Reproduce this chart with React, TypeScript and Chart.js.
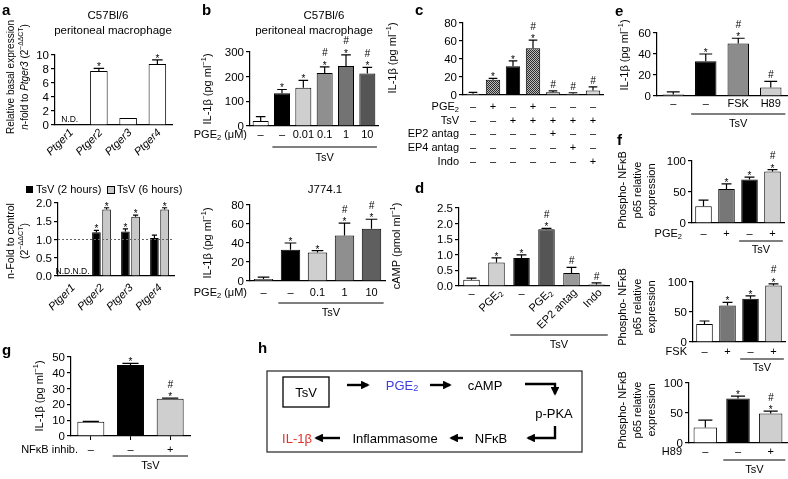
import React, { useEffect, useRef, useState } from 'react';
import { Chart, registerables } from 'chart.js';

Chart.register(...registerables);

const FONT = "'Liberation Sans', Arial, Helvetica, sans-serif";
Chart.defaults.font.family = FONT;
Chart.defaults.color = '#000';

// ---------------- data ----------------
// a (top): basal expression, n-fold to Ptger3
const ptgerCats = ['Ptger1', 'Ptger2', 'Ptger3', 'Ptger4'];
const aTopTicks = [0, 2, 4, 6, 8, 10];
const aTopValues = [null, 7.7, 1.0, 8.7];
const aTopErrors = [0, 0.4, 0, 0.6];
const aTopMarks = ['', '*', '', '*'];
// a (bottom): TsV 2 h / 6 h
const aBotTicks = [0, 0.5, 1, 1.5, 2];
const aBot2hValues = [null, 1.2, 1.22, 1.04];
const aBot2hErrors = [0, 0.05, 0.07, 0.08];
const aBot2hMarks = ['', '*', '*', ''];
const aBot6hValues = [null, 1.82, 1.62, 1.82];
const aBot6hErrors = [0, 0.05, 0.05, 0.05];
const aBot6hMarks = ['', '*', '*', '*'];
// b (top)
const bTopTicks = [0, 100, 200, 300];
const bTopDose = ['–', '–', '0.01', '0.1', '1', '10'];
const bTopValues = [20, 133, 155, 215, 243, 213];
const bTopErrors = [18, 15, 30, 25, 45, 25];
const bTopMarks = ['', '*', '*', '*#', '*#', '*#'];
// b (bottom) J774.1
const bBotTicks = [0, 20, 40, 60, 80];
const bBotDose = ['–', '–', '0.1', '1', '10'];
const bBotValues = [2, 33, 30, 48, 55];
const bBotErrors = [2, 7, 2, 13, 10];
const bBotMarks = ['', '*', '*', '*#', '*#'];
// c
const cTicks = [0, 20, 40, 60, 80];
const cRowLabels = ['PGE_{2}', 'TsV', 'EP2 antag', 'EP4 antag', 'Indo'];
const cPGE2 = ['–', '+', '–', '+', '–', '–', '–'];
const cTsV = ['–', '–', '+', '+', '+', '+', '+'];
const cEP2 = ['–', '–', '–', '–', '+', '–', '–'];
const cEP4 = ['–', '–', '–', '–', '–', '+', '–'];
const cIndo = ['–', '–', '–', '–', '–', '–', '+'];
const cValues = [1.5, 17, 32, 52, 3, 1.5, 5];
const cErrors = [1.5, 1.5, 6, 9, 1.5, 1, 4];
const cMarks = ['', '*', '*', '*#', '#', '#', '#'];
// d cAMP
const dTicks = [0, 0.5, 1, 1.5, 2, 2.5];
const dLabels = ['–', 'PGE_{2}', '–', 'PGE_{2}', 'EP2 antag', 'Indo'];
const dValues = [0.2, 0.75, 0.9, 1.82, 0.42, 0.05];
const dErrors = [0.05, 0.15, 0.1, 0.03, 0.18, 0.05];
const dMarks = ['', '*', '*', '*#', '#', '#'];
// e
const eTicks = [0, 20, 40, 60];
const eLabels = ['–', '–', 'FSK', 'H89'];
const eValues = [1.5, 33, 50, 8];
const eErrors = [2.5, 7, 5, 6];
const eMarks = ['', '*', '*#', '#'];
// f
const fTicks = [0, 50, 100];
const fPGE2 = ['–', '+', '–', '+'];
const fTopValues = [27, 55, 70, 83];
const fTopErrors = [10, 8, 4, 3];
const fTopMarks = ['', '*', '*', '*#'];
const fFSK = ['–', '+', '–', '+'];
const fMidValues = [30, 61, 72, 94];
const fMidErrors = [5, 5, 5, 3];
const fMidMarks = ['', '*', '*', '*#'];
const fH89 = ['–', '–', '+'];
const fBotValues = [26, 74, 49];
const fBotErrors = [12, 4, 4];
const fBotMarks = ['', '*', '*#'];
// g
const gTicks = [0, 10, 20, 30, 40, 50];
const gNFkB = ['–', '–', '+'];
const gValues = [9, 45, 23.5];
const gErrors = [0.3, 1, 0.5];
const gMarks = ['', '*', '*#'];

// ---------------- helpers ----------------
type Seg = { t: string; mode: number; it: boolean };
function parseRich(s: string, baseItalic: boolean): Seg[] {
  const segs: Seg[] = [];
  let it = baseItalic;
  let buf = '';
  let i = 0;
  const push = () => { if (buf) segs.push({ t: buf, mode: 0, it }); buf = ''; };
  while (i < s.length) {
    const c = s[i];
    if (c === '~') { push(); it = !it; i++; continue; }
    if ((c === '_' || c === '^') && s[i + 1] === '{') {
      push();
      const end = s.indexOf('}', i);
      segs.push({ t: s.slice(i + 2, end), mode: c === '_' ? 1 : 2, it });
      i = end + 1;
      continue;
    }
    buf += c;
    i++;
  }
  push();
  return segs;
}

type TOpt = { size?: number; align?: string; rot?: number; italic?: boolean; bold?: boolean; color?: string };
function drawRich(ctx: CanvasRenderingContext2D, s: string, x: number, y: number, o: TOpt = {}) {
  const size = o.size || 11;
  const segs = parseRich(s, !!o.italic);
  const fontFor = (g: Seg) => `${g.it ? 'italic ' : ''}${o.bold ? 'bold ' : ''}${g.mode ? size * 0.68 : size}px ${FONT}`;
  let w = 0;
  const ws = segs.map((g) => { ctx.font = fontFor(g); const m = ctx.measureText(g.t).width; w += m; return m; });
  ctx.save();
  ctx.translate(x, y);
  if (o.rot) ctx.rotate((o.rot * Math.PI) / 180);
  ctx.fillStyle = o.color || '#000';
  ctx.textBaseline = 'middle';
  ctx.textAlign = 'left';
  let cx = o.align === 'right' ? -w : o.align === 'left' ? 0 : -w / 2;
  segs.forEach((g, k) => {
    ctx.font = fontFor(g);
    const dy = g.mode === 1 ? size * 0.28 : g.mode === 2 ? -size * 0.36 : 0;
    ctx.fillText(g.t, cx, dy);
    cx += ws[k];
  });
  ctx.restore();
}

type TextItem = { t: string; x: number; y: number } & TOpt;
type Row = { label?: string; labelX?: number; y: number; values: string[] };
type SetSpec = { data: (number | null)[]; colors: any; errors: number[]; marks: string[] };
type Spec = {
  plot: [number, number, number, number];
  cats: string[];
  sets: SetSpec[];
  yTicks: number[];
  dec?: number;
  barPct: number;
  catPct?: number;
  xTicks?: boolean;
  texts?: TextItem[];
  rows?: Row[];
  rot?: { labels: string[]; y: number; dx: number; italic?: boolean; dashY?: number };
  group?: { from: number; to: number; y: number; labelY: number };
  refLine?: number;
  extra?: (ctx: CanvasRenderingContext2D, chart: any) => void;
};

const YW = 30;

function build(canvas: HTMLCanvasElement, s: Spec) {
  const [x0, y0, x1, y1] = s.plot;
  const yMax = s.yTicks[s.yTicks.length - 1];
  const extras = {
    id: 'extras',
    afterDraw(chart: any) {
      const ctx: CanvasRenderingContext2D = chart.ctx;
      const xs = chart.scales.x;
      const ys = chart.scales.y;
      ctx.save();
      if (s.refLine != null) {
        const yy = ys.getPixelForValue(s.refLine);
        ctx.setLineDash([2, 2]);
        ctx.strokeStyle = '#666';
        ctx.lineWidth = 1;
        ctx.beginPath();
        ctx.moveTo(xs.left, yy);
        ctx.lineTo(xs.right, yy);
        ctx.stroke();
        ctx.setLineDash([]);
      }
      s.sets.forEach((set, d) => {
        const meta = chart.getDatasetMeta(d);
        set.data.forEach((v, i) => {
          if (v == null) return;
          const el: any = meta.data[i];
          const err = set.errors[i] || 0;
          const top = ys.getPixelForValue(v + err);
          const barTop = ys.getPixelForValue(v);
          const w = el.width;
          if (err > 0) {
            ctx.strokeStyle = '#000';
            ctx.lineWidth = 1.2;
            ctx.beginPath();
            ctx.moveTo(el.x, barTop);
            ctx.lineTo(el.x, top);
            ctx.moveTo(el.x - w * 0.3, top);
            ctx.lineTo(el.x + w * 0.3, top);
            ctx.stroke();
          }
          const m = set.marks[i] || '';
          ctx.fillStyle = '#000';
          ctx.textAlign = 'center';
          ctx.textBaseline = 'alphabetic';
          if (m.includes('*')) {
            ctx.font = `10px ${FONT}`;
            ctx.fillText('*', el.x, top + 2);
          }
          if (m.includes('#')) {
            ctx.font = `italic 10px ${FONT}`;
            ctx.fillText('#', el.x, m.includes('*') ? top - 10.5 : top - 3);
          }
        });
      });
      (s.rows || []).forEach((r) => {
        if (r.label) drawRich(ctx, r.label, r.labelX || 0, r.y, { size: 11, align: 'right' });
        r.values.forEach((t, i) => drawRich(ctx, t, xs.getPixelForValue(i), r.y, { size: 11 }));
      });
      if (s.rot) {
        const rt = s.rot;
        rt.labels.forEach((t, i) => {
          const cx = xs.getPixelForValue(i);
          if (t === '–') drawRich(ctx, t, cx, rt.dashY || rt.y, { size: 11 });
          else drawRich(ctx, t, cx + rt.dx, rt.y, { size: 11, align: 'right', rot: -45, italic: rt.italic });
        });
      }
      if (s.group) {
        const g = s.group;
        const bw = xs.width / s.cats.length;
        const a = xs.getPixelForValue(g.from) - bw * 0.45;
        const b = xs.getPixelForValue(g.to) + bw * 0.45;
        ctx.strokeStyle = '#000';
        ctx.lineWidth = 1;
        ctx.beginPath();
        ctx.moveTo(a, g.y);
        ctx.lineTo(b, g.y);
        ctx.stroke();
        drawRich(ctx, 'TsV', (a + b) / 2, g.labelY, { size: 11 });
      }
      (s.texts || []).forEach((t) => drawRich(ctx, t.t, t.x, t.y, t));
      if (s.extra) s.extra(ctx, chart);
      ctx.restore();
    },
  };

  const datasets = s.sets.map((set) => ({
    data: set.data,
    backgroundColor: set.colors,
    borderColor: '#000',
    borderWidth: 1,
    barPercentage: s.barPct,
    categoryPercentage: s.catPct ?? 1,
  }));

  return new Chart(canvas, {
    type: 'bar',
    data: { labels: s.cats, datasets } as any,
    options: {
      responsive: false,
      animation: false,
      devicePixelRatio: 1,
      events: [],
      layout: { padding: { left: x0 - YW, top: y0, right: 788 - x1, bottom: 479 - y1 } },
      plugins: { legend: { display: false }, tooltip: { enabled: false }, title: { display: false } },
      scales: {
        x: {
          ticks: { display: false },
          grid: { display: !!s.xTicks, drawOnChartArea: false, drawTicks: true, tickLength: 4, offset: false, color: '#000' },
          border: { display: true, color: '#000', width: 1.2 },
          afterFit: (sc: any) => { sc.height = 0; },
        },
        y: {
          min: 0,
          max: yMax,
          ticks: { autoSkip: false, display: false, maxTicksLimit: 20 },
          afterBuildTicks: (sc: any) => { sc.ticks = s.yTicks.map((v) => ({ value: v })); },
          grid: { drawOnChartArea: false, drawTicks: true, tickLength: 4, color: '#000', lineWidth: 1.2 },
          border: { display: true, color: '#000', width: 1.2 },
          afterFit: (sc: any) => { sc.width = YW; },
        },
      },
    } as any,
    plugins: [extras],
  });
}

function makePattern(): any {
  const pc = document.createElement('canvas');
  pc.width = 2;
  pc.height = 2;
  const p = pc.getContext('2d')!;
  p.fillStyle = '#bdbdbd';
  p.fillRect(0, 0, 2, 2);
  p.fillStyle = '#2a2a2a';
  p.fillRect(0, 0, 1, 1);
  p.fillRect(1, 1, 1, 1);
  return p.createPattern(pc, 'repeat');
}

const IL = 'IL-1β (pg ml^{−1})';
const fTitle = (y: number): TextItem[] => [
  { t: 'Phospho- NFκB', x: 623, y, rot: -90, size: 11 },
  { t: 'p65 relative', x: 638, y, rot: -90, size: 11 },
  { t: 'expression', x: 652, y, rot: -90, size: 11 },
];

function makeSpecs(pat: any): Spec[] {
  const aTop: Spec = {
    plot: [55, 55, 172, 125],
    cats: ptgerCats,
    sets: [{ data: aTopValues, colors: '#fff', errors: aTopErrors, marks: aTopMarks }],
    yTicks: aTopTicks, barPct: 0.6,
    rot: { labels: ptgerCats, y: 131, dx: 2, italic: true },
    texts: [
      { t: 'a', x: 2, y: 11, size: 15, bold: true, align: 'left' },
      { t: 'C57Bl/6', x: 108, y: 16, size: 11.5 },
      { t: 'peritoneal macrophage', x: 113, y: 31, size: 11.5 },
      { t: 'Relative basal expression', x: 11, y: 77, rot: -90, size: 10 },
      { t: '~n~-fold to ~Ptger3~ (2^{−ΔΔCT})', x: 25, y: 77, rot: -90, size: 10 },
    ],
    extra: (ctx, chart) => {
      drawRich(ctx, 'N.D.', chart.scales.x.getPixelForValue(0), 120, { size: 8.5 });
    },
  };
  const aBot: Spec = {
    plot: [58, 203, 174, 276],
    cats: ptgerCats,
    sets: [
      { data: aBot2hValues, colors: '#000', errors: aBot2hErrors, marks: aBot2hMarks },
      { data: aBot6hValues, colors: '#c8c8c8', errors: aBot6hErrors, marks: aBot6hMarks },
    ],
    yTicks: aBotTicks, dec: 1, barPct: 0.85, catPct: 0.7,
    refLine: 1,
    rot: { labels: ptgerCats, y: 286, dx: 1, italic: true },
    texts: [
      { t: 'n-Fold to control', x: 11, y: 241, rot: -90, size: 10.5 },
      { t: '(2^{−ΔΔCT})', x: 25, y: 241, rot: -90, size: 10.5 },
      { t: 'TsV (2 hours)', x: 36, y: 190, size: 11, align: 'left' },
      { t: 'TsV (6 hours)', x: 117, y: 190, size: 11, align: 'left' },
    ],
    extra: (ctx, chart) => {
      ctx.fillStyle = '#000';
      ctx.fillRect(26, 186, 7, 7);
      ctx.fillStyle = '#c8c8c8';
      ctx.fillRect(107, 186, 7, 7);
      ctx.strokeStyle = '#000';
      ctx.lineWidth = 1;
      ctx.strokeRect(107.5, 186.5, 7, 7);
      drawRich(ctx, 'N.D.N.D.', chart.scales.x.getPixelForValue(0), 272, { size: 8.5 });
    },
  };
  const bTop: Spec = {
    plot: [250, 52, 378, 126],
    cats: bTopDose.map((d, i) => d + i),
    sets: [{ data: bTopValues, colors: ['#fff', '#000', '#cfcfcf', '#8f8f8f', '#737373', '#555555'], errors: bTopErrors, marks: bTopMarks }],
    yTicks: bTopTicks, barPct: 0.75,
    rows: [{ label: 'PGE_{2} (μM)', labelX: 247, y: 135, values: bTopDose }],
    group: { from: 1, to: 5, y: 147, labelY: 158 },
    texts: [
      { t: 'b', x: 202, y: 11, size: 15, bold: true, align: 'left' },
      { t: 'C57Bl/6', x: 324, y: 16, size: 11.5 },
      { t: 'peritoneal macrophage', x: 314, y: 31, size: 11.5 },
      { t: IL, x: 208, y: 89, rot: -90, size: 11 },
    ],
  };
  const bBot: Spec = {
    plot: [250, 205, 385, 281],
    cats: bBotDose.map((d, i) => d + i),
    sets: [{ data: bBotValues, colors: ['#fff', '#000', '#cfcfcf', '#8f8f8f', '#5f5f5f'], errors: bBotErrors, marks: bBotMarks }],
    yTicks: bBotTicks, barPct: 0.72,
    rows: [{ label: 'PGE_{2} (μM)', labelX: 247, y: 293, values: bBotDose }],
    group: { from: 1, to: 4, y: 303, labelY: 313 },
    texts: [
      { t: 'J774.1', x: 325, y: 190, size: 11.5 },
      { t: IL, x: 208, y: 243, rot: -90, size: 11 },
    ],
  };
  const c: Spec = {
    plot: [463, 23, 603, 95],
    cats: cPGE2.map((_, i) => 'c' + i),
    sets: [{ data: cValues, colors: ['#fff', pat, '#000', pat, '#c8c8c8', '#c8c8c8', '#d9d9d9'], errors: cErrors, marks: cMarks }],
    yTicks: cTicks, barPct: 0.72,
    rows: [
      { label: cRowLabels[0], labelX: 459, y: 107, values: cPGE2 },
      { label: cRowLabels[1], labelX: 459, y: 121, values: cTsV },
      { label: cRowLabels[2], labelX: 459, y: 134, values: cEP2 },
      { label: cRowLabels[3], labelX: 459, y: 148, values: cEP4 },
      { label: cRowLabels[4], labelX: 459, y: 162, values: cIndo },
    ],
    texts: [
      { t: 'c', x: 415, y: 11, size: 15, bold: true, align: 'left' },
      { t: IL, x: 393, y: 58, rot: -90, size: 11 },
    ],
  };
  const d: Spec = {
    plot: [459, 208, 609, 286],
    cats: dLabels.map((l, i) => l + i),
    sets: [{ data: dValues, colors: ['#fff', '#d0d0d0', '#000', '#555555', '#999999', '#bdbdbd'], errors: dErrors, marks: dMarks }],
    yTicks: dTicks, dec: 1, barPct: 0.66,
    rot: { labels: dLabels, y: 291, dx: 4, dashY: 294 },
    group: { from: 2, to: 5, y: 335, labelY: 345 },
    texts: [
      { t: 'd', x: 415, y: 189, size: 15, bold: true, align: 'left' },
      { t: 'cAMP (pmol ml^{−1})', x: 397, y: 246, rot: -90, size: 11 },
    ],
  };
  const e: Spec = {
    plot: [657, 33, 787, 96],
    cats: eLabels.map((l, i) => l + i),
    sets: [{ data: eValues, colors: ['#fff', '#000', '#8c8c8c', '#cfcfcf'], errors: eErrors, marks: eMarks }],
    yTicks: eTicks, barPct: 0.66,
    rows: [{ y: 104, values: eLabels }],
    group: { from: 1, to: 3, y: 114, labelY: 124 },
    texts: [
      { t: 'e', x: 615, y: 12, size: 15, bold: true, align: 'left' },
      { t: IL, x: 625, y: 55, rot: -90, size: 11 },
    ],
  };
  const fTop: Spec = {
    plot: [692, 161, 784, 223],
    cats: fPGE2.map((l, i) => l + i),
    sets: [{ data: fTopValues, colors: ['#fff', '#777777', '#000', '#cfcfcf'], errors: fTopErrors, marks: fTopMarks }],
    yTicks: fTicks, barPct: 0.72,
    rows: [{ label: 'PGE_{2}', labelX: 682, y: 234, values: fPGE2 }],
    group: { from: 2, to: 3, y: 241, labelY: 250 },
    texts: [{ t: 'f', x: 617, y: 141, size: 15, bold: true, align: 'left' }, ...fTitle(190)],
  };
  const fMid: Spec = {
    plot: [693, 282, 785, 342],
    cats: fFSK.map((l, i) => l + i),
    sets: [{ data: fMidValues, colors: ['#fff', '#777777', '#000', '#cfcfcf'], errors: fMidErrors, marks: fMidMarks }],
    yTicks: fTicks, barPct: 0.72,
    rows: [{ label: 'FSK', labelX: 687, y: 352, values: fFSK }],
    group: { from: 2, to: 3, y: 359, labelY: 368 },
    texts: fTitle(307),
  };
  const fBot: Spec = {
    plot: [689, 383, 787, 443],
    cats: fH89.map((l, i) => l + i),
    sets: [{ data: fBotValues, colors: ['#fff', '#000', '#cfcfcf'], errors: fBotErrors, marks: fBotMarks }],
    yTicks: fTicks, barPct: 0.72,
    rows: [{ label: 'H89', labelX: 682, y: 452, values: fH89 }],
    group: { from: 1, to: 2, y: 460, labelY: 470 },
    texts: fTitle(410),
  };
  const g: Spec = {
    plot: [71, 357, 190, 436],
    cats: gNFkB.map((l, i) => l + i),
    sets: [{ data: gValues, colors: ['#fff', '#000', '#cfcfcf'], errors: gErrors, marks: gMarks }],
    yTicks: gTicks, barPct: 0.68,
    xTicks: true,
    rows: [{ label: 'NFκB inhib.', labelX: 78, y: 450, values: gNFkB }],
    group: { from: 1, to: 2, y: 456, labelY: 466 },
    texts: [
      { t: 'g', x: 2, y: 351, size: 15, bold: true, align: 'left' },
      { t: IL, x: 40, y: 396, rot: -90, size: 11 },
    ],
  };
  return [aTop, aBot, bTop, bBot, c, d, e, fTop, fMid, fBot, g];
}

const PANEL_COUNT = 11;

function Pathway() {
  const fs = 13;
  return (
    <svg width={788} height={479} style={{ position: 'absolute', left: 0, top: 0, pointerEvents: 'none' }} fontFamily={FONT}>
      <defs>
        <marker id="ah" viewBox="0 0 10 10" refX="8" refY="5" markerWidth="3.6" markerHeight="3.6" orient="auto">
          <path d="M0,0 L10,5 L0,10 z" fill="#000" />
        </marker>
      </defs>
      <text x={258} y={347.5} fontWeight="bold" fontSize={15} dominantBaseline="central">h</text>
      <rect x={267} y={371} width={315} height={81} fill="none" stroke="#333" strokeWidth={1.3} />
      <rect x={283} y={377} width={46} height={30} fill="none" stroke="#000" strokeWidth={1.3} />
      <text x={306} y={392} fontSize={fs} textAnchor="middle" dominantBaseline="central">TsV</text>
      <g stroke="#000" strokeWidth={2.4} fill="none">
        <line x1={347} y1={385} x2={368} y2={385} markerEnd="url(#ah)" />
        <line x1={430} y1={385} x2={450} y2={385} markerEnd="url(#ah)" />
        <path d="M525,384 H555 V394" markerEnd="url(#ah)" />
        <path d="M555,426 V438 H528" markerEnd="url(#ah)" />
        <line x1={463} y1={438} x2={451} y2={438} markerEnd="url(#ah)" />
        <line x1={340} y1={438} x2={316} y2={438} markerEnd="url(#ah)" />
      </g>
      <text x={402} y={385} fontSize={fs} textAnchor="middle" dominantBaseline="central" fill="#3d3de0">
        PGE<tspan dy={3} fontSize={9}>2</tspan>
      </text>
      <text x={485} y={385} fontSize={fs} textAnchor="middle" dominantBaseline="central">cAMP</text>
      <text x={554} y={413} fontSize={fs} textAnchor="middle" dominantBaseline="central">p-PKA</text>
      <text x={491} y={438} fontSize={fs} textAnchor="middle" dominantBaseline="central">NFκB</text>
      <text x={395} y={438} fontSize={fs} textAnchor="middle" dominantBaseline="central">Inflammasome</text>
      <text x={297} y={438} fontSize={fs} textAnchor="middle" dominantBaseline="central" fill="#e0302a">IL-1β</text>
    </svg>
  );
}

type TickLab = { x: number; y: number; t: string };

export default function App() {
  const refs = useRef<(HTMLCanvasElement | null)[]>([]);
  const [ticks, setTicks] = useState<TickLab[]>([]);
  useEffect(() => {
    const specs = makeSpecs(makePattern());
    const charts = specs.map((s, i) => build(refs.current[i]!, s));
    const labs: TickLab[] = [];
    charts.forEach((ch: any, i) => {
      const s = specs[i];
      const ys = ch.scales.y;
      ys.ticks.forEach((tk: any) => {
        labs.push({
          x: ch.chartArea.left - 6,
          y: ys.getPixelForValue(tk.value),
          t: s.dec ? Number(tk.value).toFixed(s.dec) : String(tk.value),
        });
      });
    });
    setTicks(labs);
    return () => charts.forEach((c) => c.destroy());
  }, []);
  return (
    <div style={{ position: 'absolute', left: 0, top: 0, width: 788, height: 479, background: '#fff', overflow: 'hidden' }}>
      {Array.from({ length: PANEL_COUNT }).map((_, i) => (
        <canvas
          key={i}
          ref={(el) => { refs.current[i] = el; }}
          width={788}
          height={479}
          style={{ position: 'absolute', left: 0, top: 0, width: 788, height: 479 }}
        />
      ))}
      <Pathway />
      {ticks.map((tk, i) => (
        <div
          key={'t' + i}
          style={{
            position: 'absolute',
            left: tk.x - 40,
            top: tk.y - 7,
            width: 40,
            height: 14,
            lineHeight: '14px',
            textAlign: 'right',
            fontFamily: FONT,
            fontSize: 11.5,
            color: '#000',
            whiteSpace: 'nowrap',
          }}
        >
          {tk.t}
        </div>
      ))}
    </div>
  );
}
